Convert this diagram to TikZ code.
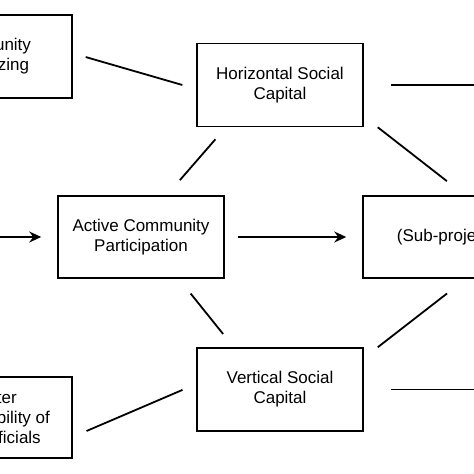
\documentclass[tikz,border=0pt]{standalone}
\usepackage{fontspec}
\setmainfont{Liberation Sans}
\usetikzlibrary{arrows.meta}
\begin{document}
\begin{tikzpicture}[x=1pt, y=-1pt,
        box/.style={draw, line width=1.5pt, minimum width=166pt, minimum height=83pt,
            align=center, inner sep=0pt, font=\fontsize{17}{20}\selectfont},
        link/.style={line width=1.8pt},
        flow/.style={line width=1.5pt, -{Stealth[length=12pt, width=11pt]}}]
    \useasboundingbox (0, 0) rectangle (474, 474);
    \clip (0, 0) rectangle (474, 474);
    \node[box, minimum width=168pt] (organizing) at (-12, 56.5) {Community\\Organizing};
    \node[box] (horizontal) at (280, 85) {Horizontal Social\\Capital};
    \node[box, minimum height=82pt] (participation) at (141, 237) {Active Community\\Participation};
    \node[box, minimum height=82pt] (subproject) at (446, 237) {(Sub-project)};
    \node[box] (vertical) at (280, 389.5) {Vertical Social\\Capital};
    \node[box, minimum width=168pt, minimum height=81pt] (accountability) at (-12, 417.5)
        {Greater\\Accountability of\\Local Officials};
    \coordinate (inflow) at (-40, 237);
    \coordinate (hright) at (520, 85);
    \coordinate (vright) at (520, 389.5);
    \draw
        [link, shorten <=13.5pt, shorten >=14.5pt]
        ([yshift=3.2pt]organizing.east) -- ([yshift=-4pt]horizontal.west);
    \draw
        [link, shorten <=27pt]
        (horizontal.east) -- (hright);
    \draw
        [link, shorten <=16pt, shorten >=20pt]
        ([xshift=29.6pt]horizontal.south west) -- ([xshift=-58pt]participation.north east);
    \draw
        [link, shorten >=23pt]
        ([xshift=14pt]horizontal.south east) -- ([xshift=19pt]subproject.north);
    \draw
        [flow, shorten >=16pt]
        (inflow) -- (participation.west);
    \draw
        [flow, shorten <=13pt, shorten >=16pt]
        (participation.east) -- (subproject.west);
    \draw
        [link, shorten <=19pt, shorten >=17pt]
        ([xshift=-46pt]participation.south east) -- ([xshift=37.5pt]vertical.north west);
    \draw
        [link, shorten <=24pt]
        ([xshift=20pt]subproject.south) -- ([xshift=14pt]vertical.north east);
    \draw
        [link, shorten <=15pt, shorten >=15pt]
        ([yshift=5.5pt]vertical.west) -- ([yshift=-19.4pt]accountability.east);
    \draw
        [link, shorten <=27pt]
        (vertical.east) -- (vright);
\end{tikzpicture}
\end{document}
